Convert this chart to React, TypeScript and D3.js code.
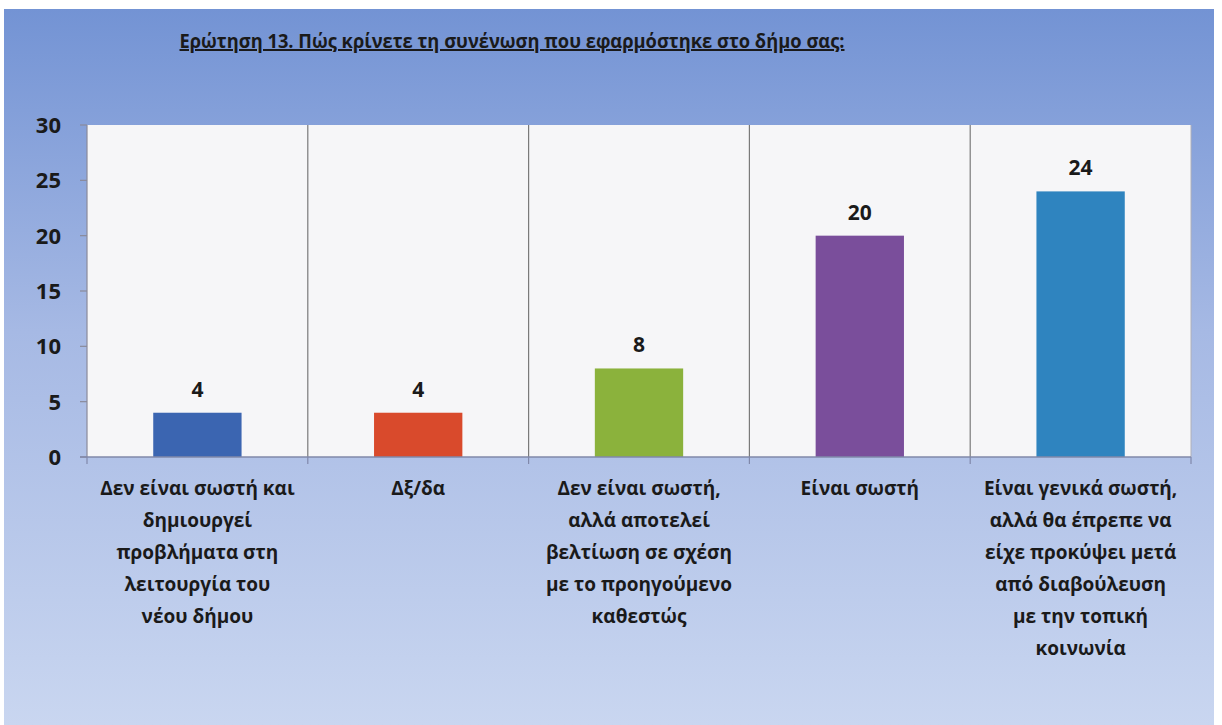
import React from "react";
import * as d3 from "d3";

const title = "Ερώτηση 13. Πώς κρίνετε τη συνένωση που εφαρμόστηκε στο δήμο σας:";
const categories: string[][] = [
  ["Δεν είναι σωστή και", "δημιουργεί", "προβλήματα στη", "λειτουργία του", "νέου δήμου"],
  ["Δξ/δα"],
  ["Δεν είναι σωστή,", "αλλά αποτελεί", "βελτίωση σε σχέση", "με το προηγούμενο", "καθεστώς"],
  ["Είναι σωστή"],
  ["Είναι γενικά σωστή,", "αλλά θα έπρεπε να", "είχε προκύψει μετά", "από διαβούλευση", "με την τοπική", "κοινωνία"],
];
const values = [4, 4, 8, 20, 24];
const colors = ["#3b65b1", "#d94a2c", "#8bb23c", "#7a4e9b", "#2f84bf"];
const yTicks = [0, 5, 10, 15, 20, 25, 30];

const W = 1222;
const H = 725;
const margin = { left: 87, right: 31, top: 125, bottom: 268 };
const FONT = "'Open Sans', sans-serif";

export default function App() {
  const x = d3
    .scaleBand<number>()
    .domain(values.map((_, i) => i))
    .range([margin.left, W - margin.right])
    .paddingInner(0)
    .paddingOuter(0);
  const y = d3.scaleLinear().domain([0, 30]).range([H - margin.bottom, margin.top]);
  const bw = x.bandwidth();
  const barW = bw * 0.4;
  const y0 = y(0);
  const boundaries = d3.range(values.length + 1).map((i) => margin.left + i * bw);

  return (
    <svg width={W} height={H} style={{ position: "absolute", left: 0, top: 0 }}>
      <defs>
        <linearGradient id="bg" x1="0" y1="0" x2="0" y2="1">
          <stop offset="0" stopColor="#7393d4" />
          <stop offset="0.45" stopColor="#a6b9e4" />
          <stop offset="1" stopColor="#c9d6f0" />
        </linearGradient>
      </defs>
      <rect x={0} y={0} width={W} height={H} fill="#ffffff" />
      <rect x={4} y={9} width={W - 12} height={H - 9} fill="url(#bg)" />
      <text
        x={512}
        y={48}
        textAnchor="middle"
        fontFamily={FONT}
        fontWeight={700}
        fontSize={20}
        textLength={665}
        lengthAdjust="spacingAndGlyphs"
        fill="#1a1a1a"
        textDecoration="underline"
      >
        {title}
      </text>
      <rect
        x={margin.left}
        y={margin.top}
        width={W - margin.left - margin.right}
        height={y0 - margin.top}
        fill="#f6f6f8"
      />
      {boundaries.slice(1, -1).map((bx, i) => (
        <line key={"g" + i} x1={bx} x2={bx} y1={margin.top} y2={y0} stroke="#7a7a7a" strokeWidth={1.2} />
      ))}
      <line x1={W - margin.right} x2={W - margin.right} y1={margin.top} y2={y0} stroke="#b0b0b8" strokeWidth={1} />
      {values.map((v, i) => (
        <rect
          key={"b" + i}
          x={(x(i) as number) + (bw - barW) / 2}
          y={y(v)}
          width={barW}
          height={y0 - y(v)}
          fill={colors[i]}
        />
      ))}
      {values.map((v, i) => (
        <text
          key={"v" + i}
          x={(x(i) as number) + bw / 2}
          y={y(v) - 16}
          textAnchor="middle"
          fontFamily={FONT}
          fontWeight={700}
          fontSize={21}
          fill="#1a1a1a"
        >
          {v}
        </text>
      ))}
      {/* y axis */}
      <line x1={margin.left} x2={margin.left} y1={margin.top} y2={y0} stroke="#8a8a9a" strokeWidth={1.2} />
      {yTicks.map((t) => (
        <g key={"t" + t}>
          <line x1={margin.left - 7} x2={margin.left} y1={y(t)} y2={y(t)} stroke="#8a8a9a" strokeWidth={1.2} />
          <text
            x={61}
            y={y(t)}
            dy="0.36em"
            textAnchor="end"
            fontFamily={FONT}
            fontWeight={700}
            fontSize={22}
            fill="#1a1a1a"
          >
            {t}
          </text>
        </g>
      ))}
      {/* x axis */}
      <line x1={margin.left - 7} x2={W - margin.right} y1={y0} y2={y0} stroke="#8088aa" strokeWidth={1.5} />
      {boundaries.map((bx, i) => (
        <line key={"xt" + i} x1={bx} x2={bx} y1={y0} y2={y0 + 7} stroke="#8088aa" strokeWidth={1.2} />
      ))}
      {categories.map((lines, i) => (
        <text
          key={"c" + i}
          x={(x(i) as number) + bw / 2}
          y={495}
          textAnchor="middle"
          fontFamily={FONT}
          fontWeight={700}
          fontSize={19}
          fill="#1a1a1a"
        >
          {lines.map((l, j) => (
            <tspan key={j} x={(x(i) as number) + bw / 2} dy={j === 0 ? 0 : 32}>
              {l}
            </tspan>
          ))}
        </text>
      ))}
    </svg>
  );
}
